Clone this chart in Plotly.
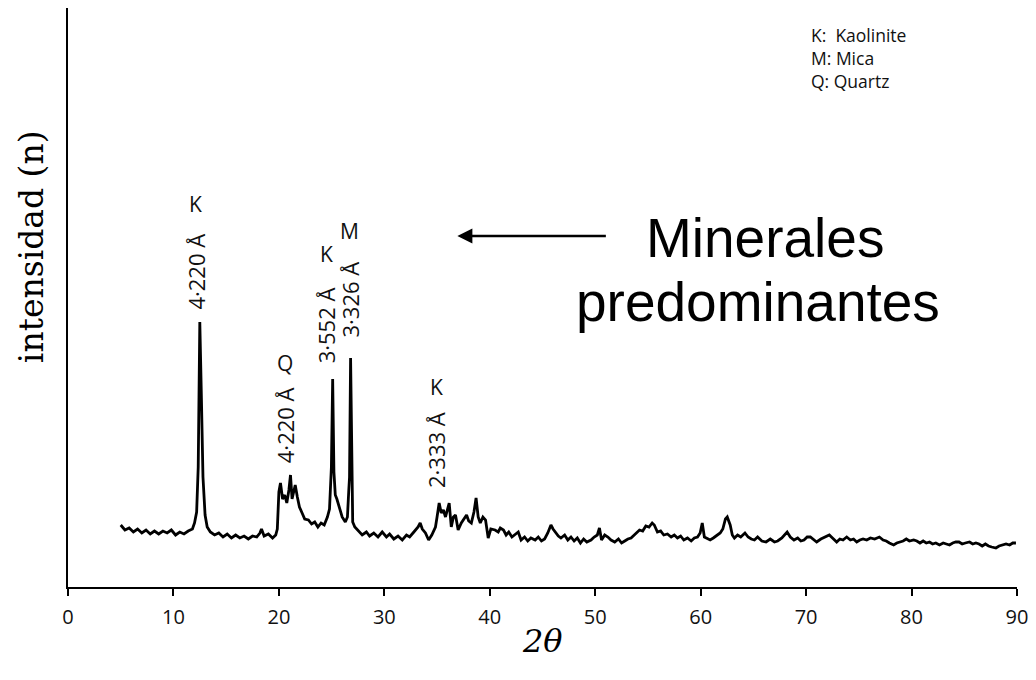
import plotly.graph_objects as go

# Diffractogram: 2-theta (degrees) vs. intensity (arbitrary units)
two_theta = [
    5.0, 5.4, 5.8, 6.2, 6.6, 7.0, 7.4, 7.8, 8.2, 8.6, 9.0, 9.4, 9.8, 10.2, 10.6, 11.0, 11.4, 11.8,
    12.0, 12.2, 12.35, 12.5, 12.65, 12.8, 13.0, 13.2, 13.5, 13.9, 14.3, 14.7, 15.1, 15.5, 15.9,
    16.3, 16.7, 17.1, 17.5, 17.9, 18.2, 18.35, 18.6, 19.0, 19.4, 19.7, 19.85, 20.0, 20.15, 20.35,
    20.55, 20.75, 20.95, 21.1, 21.25, 21.45, 21.55, 21.75, 21.95, 22.2, 22.45, 22.8, 23.1, 23.4,
    23.7, 24.0, 24.3, 24.6, 24.8, 24.98, 25.1, 25.22, 25.35, 25.5, 25.7, 26.0, 26.3, 26.5, 26.62,
    26.7, 26.8, 26.9, 27.0, 27.2, 27.5, 27.9, 28.3, 28.6, 29.0, 29.4, 29.8, 30.2, 30.5, 30.9,
    31.3, 31.7, 32.1, 32.4, 32.8, 33.2, 33.4, 33.6, 33.9, 34.2, 34.5, 34.85, 35.0, 35.2, 35.4,
    35.6, 35.8, 36.0, 36.15, 36.35, 36.55, 36.75, 37.0, 37.3, 37.5, 37.8, 38.0, 38.25, 38.5,
    38.7, 38.9, 39.1, 39.35, 39.6, 39.85, 40.1, 40.5, 40.8, 41.0, 41.3, 41.55, 41.8, 42.1, 42.4,
    42.7, 42.97, 43.3, 43.6, 43.9, 44.3, 44.6, 44.9, 45.2, 45.5, 45.8, 46.0, 46.2, 46.5, 46.75,
    47.1, 47.4, 47.7, 48.0, 48.3, 48.6, 48.9, 49.2, 49.6, 49.9, 50.2, 50.4, 50.6, 50.9, 51.2,
    51.5, 51.85, 52.2, 52.5, 52.8, 53.1, 53.4, 53.8, 54.2, 54.5, 54.8, 55.1, 55.4, 55.6, 55.9,
    56.2, 56.5, 56.85, 57.2, 57.5, 57.8, 58.1, 58.4, 58.75, 59.1, 59.4, 59.7, 59.95, 60.15, 60.35,
    60.6, 60.9, 61.2, 61.5, 61.85, 62.1, 62.35, 62.52, 62.8, 63.0, 63.2, 63.5, 63.8, 64.2, 64.5,
    64.8, 65.1, 65.4, 65.8, 66.2, 66.6, 67.0, 67.3, 67.7, 68.0, 68.2, 68.5, 68.85, 69.2, 69.5,
    69.8, 70.1, 70.4, 70.7, 71.0, 71.4, 71.8, 72.2, 72.5, 72.9, 73.2, 73.5, 73.85, 74.2, 74.5,
    74.8, 75.1, 75.4, 75.75, 76.1, 76.5, 76.95, 77.3, 77.6, 77.9, 78.3, 78.6, 78.85, 79.2, 79.5,
    79.8, 80.2, 80.5, 80.8, 81.1, 81.4, 81.7, 82.0, 82.3, 82.65, 83.0, 83.3, 83.6, 83.9, 84.2,
    84.5, 84.8, 85.1, 85.5, 85.8, 86.1, 86.4, 86.7, 87.0, 87.3, 87.6, 88.0, 88.3, 88.6, 88.96,
    89.3, 89.6, 89.9,
]
intensity = [
    62, 57, 59, 55, 58, 54, 57, 53, 56, 53, 56, 54, 57, 52, 55, 53, 56, 58,
    64, 75, 120, 265, 190, 110, 72, 60, 55, 52, 54, 50, 53, 49, 52,
    49, 51, 48, 51, 50, 54, 58, 51, 53, 49, 52, 58, 95, 104, 88,
    92, 84, 97, 112, 88, 98, 102, 90, 80, 74, 68, 67, 63, 65,
    60, 64, 62, 70, 78, 120, 208, 115, 92, 88, 80, 70, 65, 70, 95,
    110, 229, 110, 65, 60, 57, 52, 55, 51, 54, 50, 55, 50, 53, 48,
    51, 47, 52, 50, 55, 60, 64, 58, 54, 47, 52, 60, 70, 84, 74,
    77, 70, 80, 84, 60, 70, 72, 57, 64, 67, 72, 66, 64, 75,
    89, 70, 64, 70, 67, 49, 58, 57, 55, 59, 57, 52, 55, 50, 53,
    55, 47, 50, 46, 49, 47, 50, 46, 48, 54, 62, 58, 55, 51, 49,
    52, 47, 50, 46, 49, 44, 48, 45, 47, 50, 52, 59, 47, 52, 50,
    47, 45, 48, 44, 46, 48, 49, 53, 57, 56, 61, 60, 64, 62, 55,
    56, 52, 53, 50, 52, 49, 51, 47, 49, 46, 49, 50, 54, 64, 50,
    49, 47, 49, 51, 54, 58, 68, 70, 62, 52, 49, 52, 50, 54, 50,
    48, 47, 50, 46, 45, 48, 45, 46, 49, 53, 55, 50, 47, 49, 46,
    47, 50, 50, 47, 45, 48, 50, 52, 49, 45, 48, 47, 50, 47, 48,
    45, 47, 48, 47, 49, 48, 50, 47, 46, 44, 42, 44, 45, 46, 48,
    46, 47, 46, 44, 46, 44, 45, 43, 44, 42, 44, 43, 42, 44, 45,
    45, 43, 44, 45, 43, 44, 43, 41, 43, 41, 40, 39, 41, 42, 43,
    42, 44, 44,
]

x_ticks = [0, 10, 20, 30, 40, 50, 60, 70, 80, 90]

# Peak labels: 2-theta position, mineral letter and d-spacing text
peak_pos = [12.1, 20.6, 24.5, 26.7, 34.9]
peak_mineral = ["K", "Q", "K", "M", "K"]
mineral_y = [383, 224, 333, 356, 200]
spacing_text = ["4·220 Å", "4·220 Å", "3·552 Å", "3·326 Å", "2·333 Å"]
spacing_y = [315, 162, 262, 287, 137]

legend_lines = ["K:  Kaolinite", "M: Mica", "Q: Quartz"]

label_font = "Open Sans, Noto Sans, sans-serif"

# Plot-area geometry in pixels (used to place paper-referenced text)
L, R, T, B = 68, 1021, 8, 587


def px_x(p):
    return (p - L) / (R - L)


def px_y(p):
    return (B - p) / (B - T)


fig = go.Figure()
fig.add_trace(go.Scatter(
    x=two_theta, y=intensity, mode="lines",
    line=dict(color="black", width=2.8, shape="linear"),
    showlegend=False, hoverinfo="skip",
))

annotations = []
for xp, m, my, s, sy in zip(peak_pos, peak_mineral, mineral_y, spacing_text, spacing_y):
    annotations.append(dict(x=xp, y=my, xref="x", yref="y", text=m, showarrow=False,
                            xanchor="center", yanchor="middle",
                            font=dict(family=label_font, size=21, color="#111")))
    annotations.append(dict(x=xp, y=sy, xref="x", yref="y", text=s, showarrow=False,
                            textangle=-90, xanchor="center", yanchor="middle",
                            font=dict(family=label_font, size=22, color="#111")))

# Key for mineral abbreviations (top right), one block of three lines
annotations.append(dict(x=px_x(812), y=px_y(58), xref="paper", yref="paper",
                        xanchor="left", yanchor="middle", align="left",
                        text="<br>".join(legend_lines), showarrow=False,
                        font=dict(family=label_font, size=17.5, color="#111")))

# Arrow pointing to the dominant peaks
annotations.append(dict(x=px_x(459), y=px_y(236), xref="paper", yref="paper",
                        ax=150, ay=0, text="", showarrow=True, arrowhead=2, arrowsize=1.2,
                        arrowwidth=2.5, arrowcolor="black"))
annotations.append(dict(x=px_x(768), y=px_y(238), xref="paper", yref="paper",
                        xanchor="center", yanchor="middle", text="Minerales", showarrow=False,
                        font=dict(family="Liberation Sans, Arial, sans-serif", size=55,
                                  color="black")))
annotations.append(dict(x=px_x(761), y=px_y(302), xref="paper", yref="paper",
                        xanchor="center", yanchor="middle", text="predominantes",
                        showarrow=False,
                        font=dict(family="Liberation Sans, Arial, sans-serif", size=55,
                                  color="black")))

# Axis titles
annotations.append(dict(x=px_x(32), y=px_y(247), xref="paper", yref="paper",
                        xanchor="center", yanchor="middle", text="intensidad (n)",
                        textangle=-90, showarrow=False,
                        font=dict(family="DejaVu Serif, serif", size=33, color="black")))
annotations.append(dict(x=px_x(545), y=px_y(641), xref="paper", yref="paper",
                        xanchor="center", yanchor="middle", text="<i>2θ</i>", showarrow=False,
                        font=dict(family="DejaVu Serif, serif", size=32, color="black")))

fig.update_layout(
    width=1036, height=680,
    margin=dict(l=L, r=1036 - R, t=T, b=680 - B),
    paper_bgcolor="white", plot_bgcolor="white",
    annotations=annotations,
    xaxis=dict(
        range=[0, 90], tickvals=x_ticks, ticks="outside", ticklen=7, tickwidth=2,
        tickcolor="black", showline=True, linecolor="black", linewidth=2,
        showgrid=False, zeroline=False, ticklabelstandoff=4,
        tickfont=dict(family=label_font, size=20, color="#111"),
    ),
    yaxis=dict(
        range=[0, 579], showticklabels=False, ticks="", showline=True,
        linecolor="black", linewidth=2, showgrid=False, zeroline=False,
    ),
)

fig.write_html("out.html")
